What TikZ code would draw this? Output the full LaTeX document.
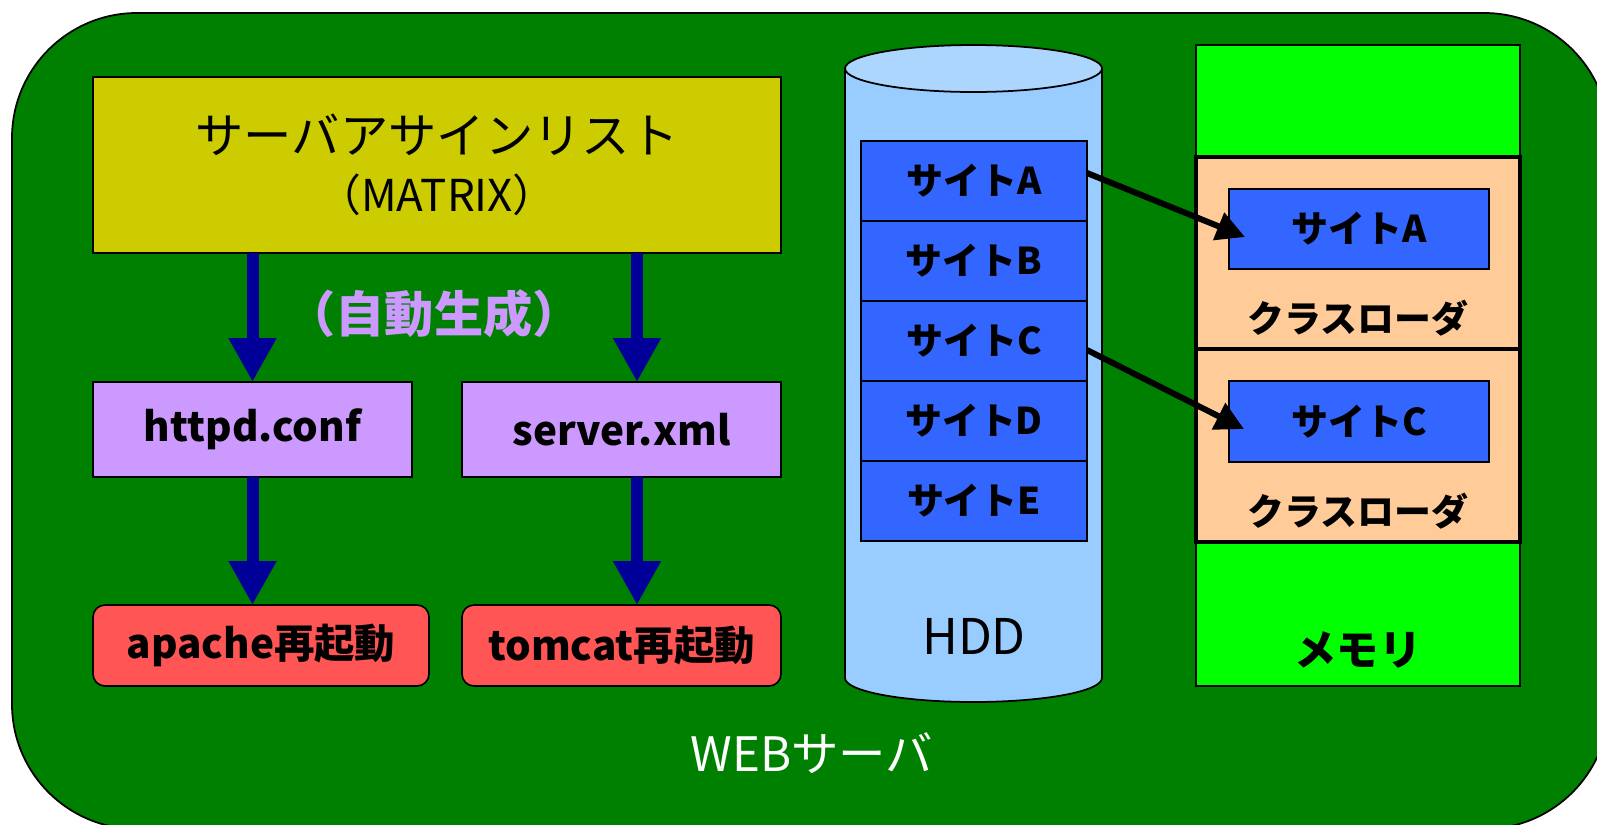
\documentclass[tikz,border=0pt]{standalone}
\usepackage{fontspec}
\setmainfont{Noto Sans CJK JP}
\usetikzlibrary{arrows.meta}

\definecolor{webgreen}{HTML}{008000}
\definecolor{matrixyellow}{HTML}{CCCC00}
\definecolor{confpurple}{HTML}{CC99FF}
\definecolor{restartred}{HTML}{FF5555}
\definecolor{siteblue}{HTML}{3366FF}
\definecolor{loaderpeach}{HTML}{FFCC99}
\definecolor{memgreen}{HTML}{00FF00}
\definecolor{hddbody}{HTML}{99CCFF}
\definecolor{hddtop}{HTML}{ADD6FF}
\definecolor{flowblue}{HTML}{000099}

\begin{document}
\begin{tikzpicture}[x=0.02cm, y=-0.02cm,
  box/.style 2 args={draw=black, line width=0.9pt, inner sep=0pt, outer sep=0pt,
    minimum width=#1*0.02cm, minimum height=#2*0.02cm},
  boldtext/.style={font=\bfseries\fontsize{#1}{#1}\selectfont},
  conf/.style={fill=confpurple, boldtext=23},
  restart/.style={fill=restartred, rounded corners=0.24cm, boldtext=23},
  site/.style={fill=siteblue, boldtext=21},
  loader/.style={fill=loaderpeach, line width=2pt},
  memblock/.style={fill=memgreen},
  flow/.style={draw=flowblue, line width=0.24cm,
    -{Triangle[width=0.9cm, length=0.88cm]}},
  load/.style={draw=black, line width=0.12cm,
    -{Triangle[width=0.57cm, length=0.57cm]}}]

\useasboundingbox (0,0) rectangle (1597,825);
\fill[white] (0,0) rectangle (1597,825);

% the web server enclosure, running off the right and bottom edges
\begin{scope}
  \clip (0,0) rectangle (1597,825);
  \draw[fill=webgreen, line width=1pt, rounded corners=2.5cm] (12,13) rectangle (1609,829);
\end{scope}
\node[text=white, font=\fontsize{27}{27}\selectfont] (weblabel) at (812,753) {WEBサーバ};

% configuration generation flow
\node[box={688}{176}, fill=matrixyellow, align=center,
      font=\fontsize{27.5}{32}\selectfont] (matrix) at (437,165)
  {サーバアサインリスト\\[1pt]
   {\fontsize{25}{30}\selectfont （MATRIX）}};
\node[text=confpurple, boldtext=28] (autogen) at (434,314) {（自動生成）};

\node[box={319}{95}, conf] (httpd) at (252.5,429.5) {httpd.conf};
\node[box={319}{95}, conf] (server) at (621.5,429.5) {server.xml};

\node[box={336}{81}, restart] (apache) at (261,645.5) {apache再起動};
\node[box={319}{81}, restart] (tomcat) at (621.5,645.5) {tomcat再起動};

\coordinate (rightflow) at (637,0);
\draw[flow] (matrix.south -| httpd.north) -- (httpd.north);
\draw[flow] (matrix.south -| rightflow) -- (server.north -| rightflow);
\draw[flow] (httpd.south) -- (apache.north -| httpd.south);
\draw[flow] (server.south -| rightflow) -- (tomcat.north -| rightflow);

% hard disk drawn as a cylinder
\draw[fill=hddbody, line width=1pt] (845,68.5) -- (845,678)
  arc[start angle=180, end angle=360, x radius=2.57cm, y radius=0.48cm]
  -- (1102,68.5) -- cycle;
\draw[fill=hddtop, line width=1pt] (973.5,68.5) ellipse [x radius=2.57cm, y radius=0.47cm];
\node[font=\fontsize{28}{28}\selectfont] (hddlabel) at (974,636) {HDD};

\node[box={226}{80}, site] (hddA) at (974,181) {サイトA};
\node[box={226}{80}, site] (hddB) at (974,261) {サイトB};
\node[box={226}{80}, site] (hddC) at (974,341) {サイトC};
\node[box={226}{80}, site] (hddD) at (974,421) {サイトD};
\node[box={226}{80}, site] (hddE) at (974,501) {サイトE};

% memory column with two class loaders
\node[box={324}{112}, memblock] (memtop) at (1358,101) {};
\node[box={324}{144}, memblock] (membot) at (1358,614) {};
\node[box={324}{192}, loader] (loaderA) at (1358,253) {};
\node[box={324}{193}, loader] (loaderC) at (1358,445.5) {};
\node[boldtext=24] (memlabel) at (1358,650) {メモリ};
\node[boldtext=21] (loaderAlabel) at (1358,318) {クラスローダ};
\node[boldtext=21] (loaderClabel) at (1358,511) {クラスローダ};

\node[box={260}{80}, site] (memA) at (1359,229) {サイトA};
\node[box={260}{81}, site] (memC) at (1359,421.5) {サイトC};

\draw[load] ([yshift=0.16cm]hddA.east) -- ([xshift=0.32cm, yshift=-0.16cm]memA.west);
\draw[load] ([yshift=-0.18cm]hddC.east) -- ([xshift=0.3cm, yshift=-0.15cm]memC.west);

\end{tikzpicture}
\end{document}
